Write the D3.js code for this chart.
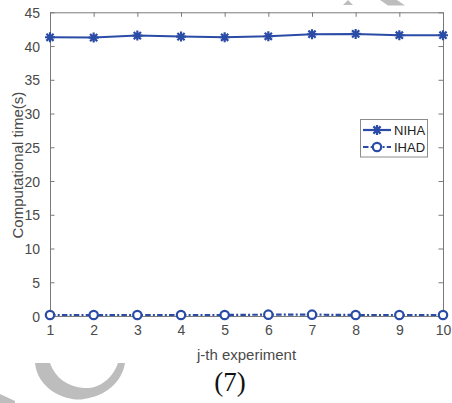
<!DOCTYPE html>
<html><head><meta charset="utf-8">
<script src="https://cdn.jsdelivr.net/npm/d3@7"></script>
<style>html,body{margin:0;padding:0;background:#fff;}svg{display:block;}</style>
</head><body>
<svg id="chart" width="452" height="403"></svg>
<script>
const experiments = [1,2,3,4,5,6,7,8,9,10];
const nihaValues = [41.3, 41.25, 41.55, 41.4, 41.3, 41.45, 41.75, 41.8, 41.6, 41.6];
const ihadValues = [0.15, 0.15, 0.15, 0.15, 0.15, 0.2, 0.2, 0.15, 0.15, 0.15];
const yTicks = [0,5,10,15,20,25,30,35,40,45];
const xTicks = [1,2,3,4,5,6,7,8,9,10];
const seriesNames = ["NIHA","IHAD"];

const svg = d3.select("#chart");
const m = {left:50, right:443, top:12.3, bottom:316};
const blue = "#2b4ca6";
const axisCol = "#7a7a7a";
const labCol = "#4a4a4a";
const font = "'Liberation Sans', Arial, Helvetica, sans-serif";
const dashDot = "5.5,2.2,2,2.2";

// watermark decoration
const wm = svg.append("g").attr("fill","#bdbdbd");
wm.append("path").attr("d","M35,363 C38,392 70,402 84,399 C106,396 122,382 125,363 L118,363 C112,380 98,389 84,388 C68,387 55,378 50,363 Z");
wm.append("path").attr("d","M0,394 L15,401 L15,403 L0,403 Z");
wm.append("path").attr("d","M343,5 L348,0 L353,5 Z");
wm.append("path").attr("d","M380,0 L397,0 L405,5.5 L388,5.5 Z");

const x = d3.scaleLinear().domain([1,10]).range([m.left, m.right]);
const y = d3.scaleLinear().domain([0,45]).range([m.bottom, m.top]);

// axes
const tl = 4.5;
const gB = svg.append("g").attr("transform",`translate(0,${m.bottom})`)
  .call(d3.axisBottom(x).tickValues(xTicks).tickSizeInner(-tl).tickSizeOuter(0).tickPadding(9).tickFormat(d3.format("d")));
const gT = svg.append("g").attr("transform",`translate(0,${m.top})`)
  .call(d3.axisTop(x).tickValues(xTicks).tickSizeInner(-tl).tickSizeOuter(0).tickFormat(""));
const gL = svg.append("g").attr("transform",`translate(${m.left},0)`)
  .call(d3.axisLeft(y).tickValues(yTicks).tickSizeInner(-tl).tickSizeOuter(0).tickPadding(10).tickFormat(d3.format("d")));
const gR = svg.append("g").attr("transform",`translate(${m.right},0)`)
  .call(d3.axisRight(y).tickValues(yTicks).tickSizeInner(-tl).tickSizeOuter(0).tickFormat(""));
[gB,gT,gL,gR].forEach(g=>{
  g.select(".domain").attr("stroke",axisCol).attr("stroke-width",1);
  g.selectAll(".tick line").attr("stroke",axisCol).attr("stroke-width",1);
  g.selectAll(".tick text").attr("fill",labCol).style("font-family",font).style("font-size","14px");
});
gL.selectAll(".tick text").attr("dy","0.36em");

// axis titles
svg.append("text").attr("x",(m.left+m.right)/2).attr("y",360)
  .attr("text-anchor","middle").attr("fill",labCol)
  .style("font-family",font).style("font-size","15px").text("j-th experiment");
svg.append("text").attr("transform",`translate(23,${(m.top+m.bottom)/2+1}) rotate(-90)`)
  .attr("text-anchor","middle").attr("fill",labCol)
  .style("font-family",font).style("font-size","15px").text("Computational time(s)");
svg.append("text").attr("x",230).attr("y",391).attr("text-anchor","middle").attr("fill","#111")
  .style("font-family","'Liberation Serif','Times New Roman',serif").style("font-size","27px").text("(7)");

// custom MATLAB-like asterisk (plus + cross)
const star = {draw(ctx, size){
  const r = Math.sqrt(size)/2;
  const d = r*0.72;
  ctx.moveTo(-r,0); ctx.lineTo(r,0);
  ctx.moveTo(0,-r); ctx.lineTo(0,r);
  ctx.moveTo(-d,-d); ctx.lineTo(d,d);
  ctx.moveTo(-d,d); ctx.lineTo(d,-d);
}};

const line = d3.line().x((d,i)=>x(experiments[i])).y(d=>y(d));

// NIHA
svg.append("path").datum(nihaValues).attr("d",line)
  .attr("fill","none").attr("stroke",blue).attr("stroke-width",2);
svg.append("g").selectAll("path").data(nihaValues).join("path")
  .attr("transform",(d,i)=>`translate(${x(experiments[i])},${y(d)})`)
  .attr("d",d3.symbol().type(star).size(100))
  .attr("fill","none").attr("stroke",blue).attr("stroke-width",2.2);

// IHAD
svg.append("path").datum(ihadValues).attr("d",line)
  .attr("fill","none").attr("stroke",blue).attr("stroke-width",2.2)
  .attr("stroke-dasharray",dashDot);
svg.append("g").selectAll("circle").data(ihadValues).join("circle")
  .attr("cx",(d,i)=>x(experiments[i])).attr("cy",d=>y(d)).attr("r",4.2)
  .attr("fill","#fff").attr("stroke",blue).attr("stroke-width",2.2);

// legend
const lg = svg.append("g");
lg.append("rect").attr("x",360.5).attr("y",119.5).attr("width",67).attr("height",37.5)
  .attr("fill","#fff").attr("stroke","#8c8c8c").attr("stroke-width",1);
const rows = [{name:seriesNames[0], y:130, dash:null, mk:"star"},{name:seriesNames[1], y:147, dash:dashDot, mk:"circle"}];
rows.forEach(r=>{
  lg.append("line").attr("x1",363).attr("x2",391).attr("y1",r.y).attr("y2",r.y)
    .attr("stroke",blue).attr("stroke-width",2.2).attr("stroke-dasharray",r.dash);
  if(r.mk==="star"){
    lg.append("path").attr("transform",`translate(377,${r.y})`).attr("d",d3.symbol().type(star).size(100))
      .attr("fill","none").attr("stroke",blue).attr("stroke-width",2.2);
  } else {
    lg.append("circle").attr("cx",377).attr("cy",r.y).attr("r",4.2)
      .attr("fill","#fff").attr("stroke",blue).attr("stroke-width",2.2);
  }
  lg.append("text").attr("x",394).attr("y",r.y+4.7).attr("fill","#222")
    .style("font-family",font).style("font-size","13px").text(r.name);
});
</script>
</body></html>
